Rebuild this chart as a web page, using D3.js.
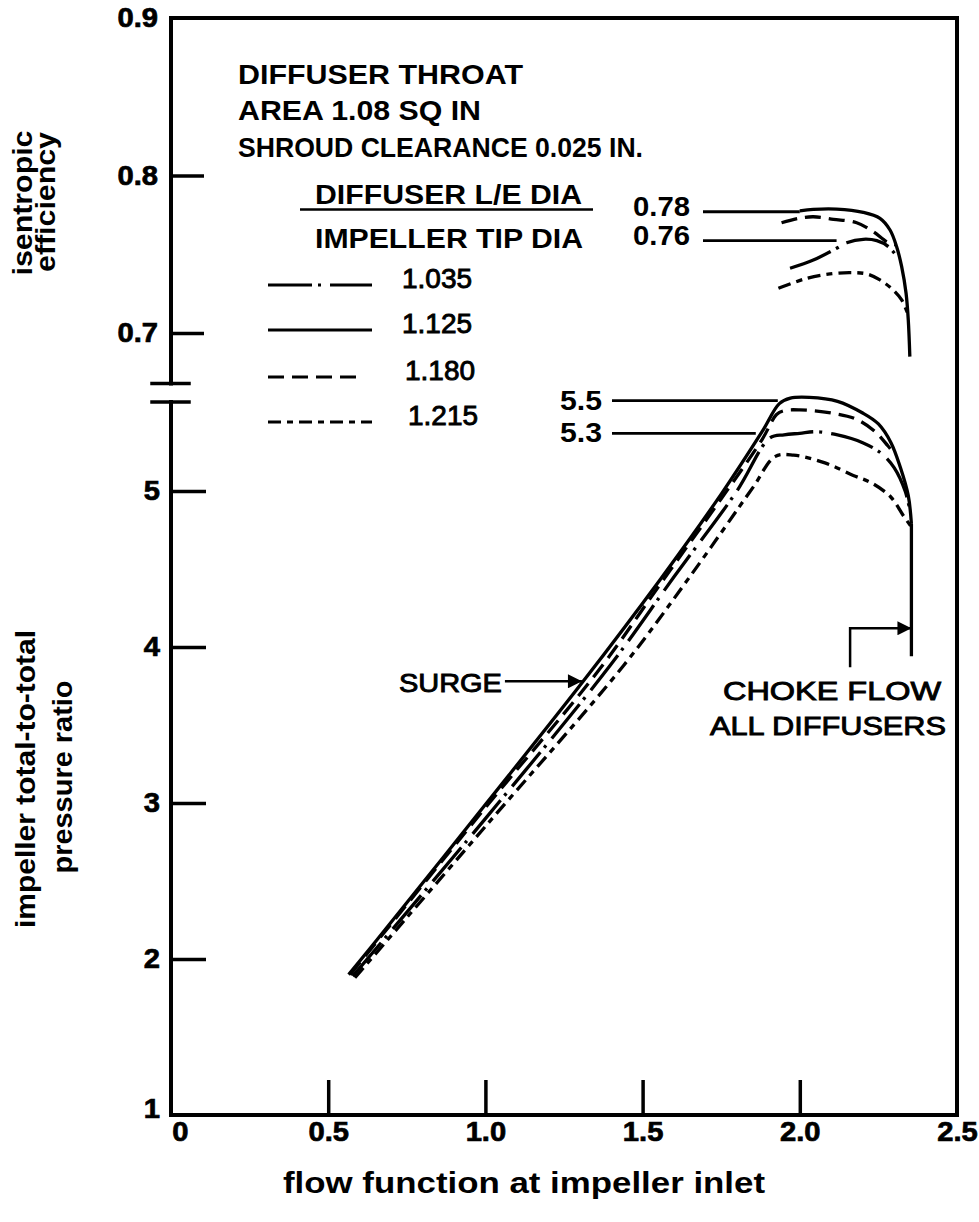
<!DOCTYPE html>
<html><head><meta charset="utf-8">
<script src="https://cdn.jsdelivr.net/npm/d3@7"></script>
<style>
html,body{margin:0;padding:0;background:#fff;}
svg{display:block;}
text{font-family:"Liberation Sans",Arial,Helvetica,sans-serif;fill:#000;}
</style></head><body>
<svg id="chart" width="979" height="1222"></svg>
<script>
// ---------------- data ----------------
const flowTicks = [0, 0.5, 1.0, 1.5, 2.0, 2.5];
const flowTickLabels = ["0", "0.5", "1.0", "1.5", "2.0", "2.5"];
const effTicks = [0.7, 0.8, 0.9];
const effTickLabels = ["0.7", "0.8", "0.9"];
const prTicks = [1, 2, 3, 4, 5];
const prTickLabels = ["1", "2", "3", "4", "5"];
const diffuserRatios = ["1.035", "1.125", "1.180", "1.215"];

// isentropic efficiency vs flow function
const eff1035 = [[1.969,0.7411],[2.043,0.7463],[2.117,0.7538],[2.149,0.7573],[2.202,0.7595],[2.245,0.7586],[2.282,0.7548],[2.318,0.746]];
const eff1125 = [[2.000,0.7775],[2.043,0.7785],[2.117,0.7787],[2.202,0.7766],[2.255,0.7728],[2.287,0.7654],[2.308,0.7548],[2.324,0.7421],[2.338,0.7252],[2.345,0.7083],[2.350,0.685]];
const eff1180 = [[1.942,0.770],[1.995,0.7728],[2.043,0.7738],[2.107,0.7722],[2.181,0.770],[2.234,0.7643],[2.276,0.758],[2.305,0.756]];
const eff1215 = [[1.932,0.7284],[2.022,0.7347],[2.096,0.7375],[2.160,0.7383],[2.213,0.7375],[2.255,0.7337],[2.297,0.7273],[2.324,0.721],[2.342,0.713]];

// impeller total-to-total pressure ratio vs flow function
const pr1035 = [[0.578,1.89],[1.0,2.90],[1.396,3.88],[1.60,4.45],[1.80,5.0],[1.905,5.34],[1.95,5.36],[2.0,5.37],[2.05,5.38],[2.12,5.36],[2.20,5.31],[2.26,5.24],[2.30,5.15],[2.335,5.0],[2.35,4.88]];
const pr1125 = [[0.565,1.90],[0.654,2.12],[1.0,2.99],[1.311,3.78],[1.555,4.43],[1.75,4.98],[1.88,5.38],[1.935,5.56],[1.97,5.595],[2.03,5.60],[2.12,5.575],[2.20,5.50],[2.25,5.43],[2.29,5.31],[2.32,5.15],[2.345,4.97],[2.355,4.79]];
const pr1180 = [[0.570,1.90],[1.0,2.97],[1.364,3.86],[1.555,4.40],[1.75,4.95],[1.88,5.33],[1.926,5.49],[1.95,5.515],[2.0,5.52],[2.10,5.50],[2.18,5.46],[2.24,5.38],[2.28,5.29],[2.30,5.24]];
const pr1215 = [[0.585,1.88],[1.0,2.85],[1.439,3.88],[1.65,4.45],[1.85,5.02],[1.921,5.22],[1.98,5.23],[2.08,5.18],[2.17,5.10],[2.23,5.05],[2.29,4.96],[2.33,4.84],[2.355,4.77]];

// annotations
const effLeaderLabels = ["0.78", "0.76"];
const effLeaderValues = [0.777, 0.7586];
const effLeaderEnds = [2.0, 2.117];
const prLeaderLabels = ["5.5", "5.3"];
const prLeaderValues = [5.579, 5.37];
const prLeaderEnds = [1.93, 1.86];
const chokeFlow = 2.355;
const chokeRange = [3.94, 4.79];
const surgePoint = [1.307, 3.78];

// ---------------- layout / style ----------------
const svg = d3.select('#chart');
const x = d3.scaleLinear().domain([0, 2.5]).range([171, 957]);
const yE = d3.scaleLinear().domain([0.7, 0.9]).range([333, 18]);
const yP = d3.scaleLinear().domain([1, 5]).range([1115, 491]);
const effBreak = 0.668, prBreak = 5.57;

const dash = {
  "1.035": "44,6,3,9",
  "1.125": null,
  "1.180": "16,8",
  "1.215": "13,6,6,6"
};
const effSeries = {"1.035": eff1035, "1.125": eff1125, "1.180": eff1180, "1.215": eff1215};
const prSeries  = {"1.035": pr1035,  "1.125": pr1125,  "1.180": pr1180,  "1.215": pr1215};

function stretch(sel, factor) {
  sel.each(function() {
    const len = this.getComputedTextLength();
    d3.select(this).attr('textLength', len * factor).attr('lengthAdjust', 'spacingAndGlyphs');
  });
}
function txt(g, s, px, py, size, opts = {}) {
  const t = g.append('text').attr('x', px).attr('y', py)
    .attr('font-size', size).attr('font-weight', opts.weight || 'bold')
    .attr('text-anchor', opts.anchor || 'start').text(s);
  if (opts.len) t.attr('textLength', opts.len).attr('lengthAdjust', 'spacingAndGlyphs');
  if (opts.transform) t.attr('transform', opts.transform);
  if (opts.heavy) t.attr('stroke', '#000').attr('stroke-width', opts.heavy);
  return t;
}

// ---------------- frame ----------------
const frame = svg.append('g').attr('stroke', '#000').attr('stroke-width', 4).attr('fill', 'none').attr('stroke-linecap', 'square');
frame.append('line').attr('x1', x(0)).attr('y1', yE(0.9)).attr('x2', x(2.5)).attr('y2', yE(0.9));
frame.append('line').attr('x1', x(2.5)).attr('y1', yE(0.9)).attr('x2', x(2.5)).attr('y2', yP(1));
frame.append('line').attr('x1', x(0)).attr('y1', yP(1)).attr('x2', x(2.5)).attr('y2', yP(1));
frame.append('line').attr('x1', x(0)).attr('y1', yE(0.9)).attr('x2', x(0)).attr('y2', yE(effBreak));
frame.append('line').attr('x1', x(0)).attr('y1', yP(prBreak)).attr('x2', x(0)).attr('y2', yP(1));
frame.append('line').attr('x1', x(0) - 19).attr('y1', yE(effBreak)).attr('x2', x(0) + 18).attr('y2', yE(effBreak)).attr('stroke-width', 3.5);
frame.append('line').attr('x1', x(0) - 19).attr('y1', yP(prBreak)).attr('x2', x(0) + 18).attr('y2', yP(prBreak)).attr('stroke-width', 3.5);

// ---------------- axes ----------------
function styleAxis(g) {
  g.select('.domain').remove();
  g.selectAll('.tick line').attr('stroke', '#000').attr('stroke-width', 3.5);
  g.selectAll('.tick text').attr('font-size', 27).attr('font-weight', 'bold')
    .attr('font-family', '"Liberation Sans",Arial,sans-serif').attr('fill', '#000')
    .attr('stroke', '#000').attr('stroke-width', 0.7);
}
const gE = svg.append('g').attr('transform', `translate(${x(0)},0)`)
  .call(d3.axisLeft(yE).tickValues(effTicks).tickFormat((d, i) => effTickLabels[i]).tickSize(-33).tickPadding(13))
  .call(styleAxis);
const gP = svg.append('g').attr('transform', `translate(${x(0)},0)`)
  .call(d3.axisLeft(yP).tickValues(prTicks).tickFormat((d, i) => prTickLabels[i]).tickSize(-35).tickPadding(11))
  .call(styleAxis);
gP.selectAll('.tick').filter(d => d === 1).select('text').attr('dy', '0.1em');
const gX = svg.append('g').attr('transform', `translate(0,${yP(1)})`)
  .call(d3.axisBottom(x).tickValues(flowTicks).tickFormat((d, i) => flowTickLabels[i]).tickSize(-35).tickPadding(7))
  .call(styleAxis);
gX.selectAll('.tick').filter(d => d === 0).select('text').attr('dx', 9);
gX.selectAll('.tick').filter(d => d === 0 || d === 2.5).select('line').remove();
gE.selectAll('.tick').filter(d => d === 0.9).select('line').remove();
gP.selectAll('.tick').filter(d => d === 1).select('line').remove();
stretch(svg.selectAll('.tick text'), 1.08);

// ---------------- axis titles ----------------
const titles = svg.append('g');
txt(titles, 'flow function at impeller inlet', 524, 1193, 29, {anchor: 'middle', len: 482});
txt(titles, 'isentropic', 0, 0, 27, {anchor: 'middle', len: 145, transform: 'translate(32,203) rotate(-90)'});
txt(titles, 'efficiency', 0, 0, 27, {anchor: 'middle', len: 140, transform: 'translate(55,202) rotate(-90)'});
txt(titles, 'impeller total-to-total', 0, 0, 27, {anchor: 'middle', len: 298, transform: 'translate(35,779) rotate(-90)'});
txt(titles, 'pressure ratio', 0, 0, 27, {anchor: 'middle', len: 193, transform: 'translate(72,777) rotate(-90)'});

// ---------------- curves ----------------
const lineE = d3.line().x(d => x(d[0])).y(d => yE(d[1])).curve(d3.curveCatmullRom.alpha(0.5));
const lineP = d3.line().x(d => x(d[0])).y(d => yP(d[1])).curve(d3.curveCatmullRom.alpha(0.5));
const curves = svg.append('g').attr('fill', 'none').attr('stroke', '#000').attr('stroke-width', 3.3).attr('stroke-linecap', 'butt');
diffuserRatios.forEach(r => {
  curves.append('path').attr('d', lineE(effSeries[r])).attr('stroke-dasharray', dash[r]);
  curves.append('path').attr('d', lineP(prSeries[r])).attr('stroke-dasharray', dash[r]);
});
// choke line shared by all diffusers
curves.append('line').attr('x1', x(chokeFlow)).attr('x2', x(chokeFlow))
  .attr('y1', yP(chokeRange[1])).attr('y2', yP(chokeRange[0]));

// ---------------- annotations ----------------
const ann = svg.append('g');
txt(ann, 'DIFFUSER THROAT', 238, 84, 28, {len: 285});
txt(ann, 'AREA 1.08 SQ IN', 238, 120, 28, {len: 243});
txt(ann, 'SHROUD CLEARANCE 0.025 IN.', 238, 157, 28, {len: 405});
txt(ann, 'DIFFUSER L/E DIA', 315, 204, 27, {len: 267});
txt(ann, 'IMPELLER TIP DIA', 315, 248, 27, {len: 268});
ann.append('line').attr('x1', 300).attr('x2', 593).attr('y1', 209.5).attr('y2', 209.5).attr('stroke', '#000').attr('stroke-width', 2.5);

const legRows = [285, 330, 377, 422];
const legText = [402, 402, 405, 408];
diffuserRatios.forEach((r, i) => {
  ann.append('line').attr('x1', 268).attr('x2', i === 2 ? 362 : 372).attr('y1', legRows[i]).attr('y2', legRows[i])
    .attr('stroke', '#000').attr('stroke-width', 3).attr('stroke-dasharray', dash[r]);
  txt(ann, r, legText[i], legRows[i] + 3, 27, {weight: 'normal', len: 70, heavy: 0.9});
});

// efficiency leaders
effLeaderValues.forEach((v, i) => {
  ann.append('line').attr('x1', 703).attr('x2', x(effLeaderEnds[i])).attr('y1', yE(v)).attr('y2', yE(v))
    .attr('stroke', '#000').attr('stroke-width', 2.8);
  txt(ann, effLeaderLabels[i], 690, yE(v) + 4, 27, {anchor: 'end', len: 57});
});
prLeaderValues.forEach((v, i) => {
  ann.append('line').attr('x1', 612).attr('x2', x(prLeaderEnds[i])).attr('y1', yP(v)).attr('y2', yP(v))
    .attr('stroke', '#000').attr('stroke-width', 2.8);
  txt(ann, prLeaderLabels[i], 602, yP(v) + 9, 27, {anchor: 'end', len: 42});
});

// surge arrow
const defs = svg.append('defs');
defs.append('marker').attr('id', 'ah').attr('viewBox', '0 0 10 10').attr('refX', 10).attr('refY', 5)
  .attr('markerWidth', 22).attr('markerHeight', 14).attr('markerUnits', 'userSpaceOnUse')
  .attr('orient', 'auto').append('path').attr('d', 'M0,0L10,5L0,10Z').attr('fill', '#000');
const sy = yP(surgePoint[1]), sx = x(surgePoint[0]);
ann.append('line').attr('x1', sx - 77).attr('x2', sx).attr('y1', sy).attr('y2', sy)
  .attr('stroke', '#000').attr('stroke-width', 2.5).attr('marker-end', 'url(#ah)');
txt(ann, 'SURGE', sx - 80, sy + 11, 26, {weight: 'normal', anchor: 'end', len: 103, heavy: 0.9});

// choke arrow
const cx = x(chokeFlow);
const tailX = x(2.16);
ann.append('path').attr('d', `M${tailX},${yP(3.87)}V${yP(4.12)}H${cx}`)
  .attr('fill', 'none').attr('stroke', '#000').attr('stroke-width', 2.5).attr('marker-end', 'url(#ah)');
txt(ann, 'CHOKE FLOW', 832, 700, 26, {weight: 'normal', anchor: 'middle', len: 218, heavy: 0.9});
txt(ann, 'ALL DIFFUSERS', 828, 735, 26, {weight: 'normal', anchor: 'middle', len: 236, heavy: 0.9});
</script>
</body></html>
